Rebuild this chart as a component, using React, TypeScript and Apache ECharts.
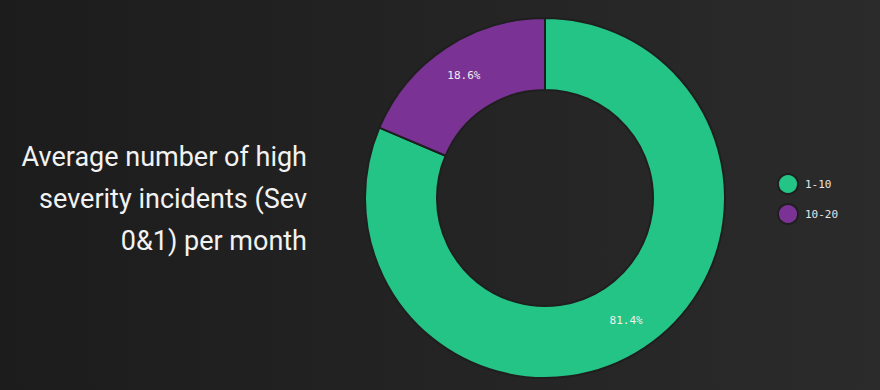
import React, { useEffect, useRef } from "react";
import * as echarts from "echarts";

const categories = ["1-10", "10-20"];
const values = [81.4, 18.6];
const colors = ["#24c486", "#7a3395"];
const titleLines = ["Average number of high", "severity incidents (Sev", "0&1) per month"];

export default function App() {
  const ref = useRef<HTMLDivElement>(null);
  useEffect(() => {
    document.body.style.margin = "0";
    const chart = echarts.init(ref.current!, null, { renderer: "svg" });
    chart.setOption({
      animation: false,
      backgroundColor: {
        type: "linear",
        x: 0, y: 0, x2: 1, y2: 0,
        colorStops: [
          { offset: 0, color: "#1c1c1c" },
          { offset: 1, color: "#2b2b2b" },
        ],
      },
      color: colors,
      legend: {
        orient: "vertical",
        left: 772,
        top: 168,
        padding: 5,
        icon: "circle",
        itemWidth: 20,
        itemHeight: 20,
        itemGap: 8,
        textStyle: {
          color: "#e6e6e6",
          fontFamily: "DejaVu Sans Mono",
          fontSize: 11,
          padding: [0, 0, 0, 2],
        },
        data: categories,
      },
      graphic: [
        {
          type: "text",
          x: 307,
          y: 136,
          style: {
            text: titleLines.join("\n"),
            fill: "#f2f2f2",
            font: "27px Roboto",
            align: "right",
            verticalAlign: "top",
            lineHeight: 42,
          },
        },
      ],
      series: [
        {
          type: "pie",
          center: [545, 198],
          radius: [108, 180],
          startAngle: 90,
          clockwise: true,
          avoidLabelOverlap: false,
          itemStyle: { borderColor: "#1f1f1f", borderWidth: 2 },
          label: {
            show: true,
            position: "inside",
            formatter: (p: any) => p.value.toFixed(1) + "%",
            color: "#f0f0f0",
            fontFamily: "DejaVu Sans Mono",
            fontSize: 11,
          },
          labelLine: { show: false },
          data: categories.map((c, i) => ({ name: c, value: values[i] })),
        },
      ],
    });
    return () => chart.dispose();
  }, []);
  return <div ref={ref} style={{ width: 880, height: 390, position: "absolute", left: 0, top: 0 }} />;
}
